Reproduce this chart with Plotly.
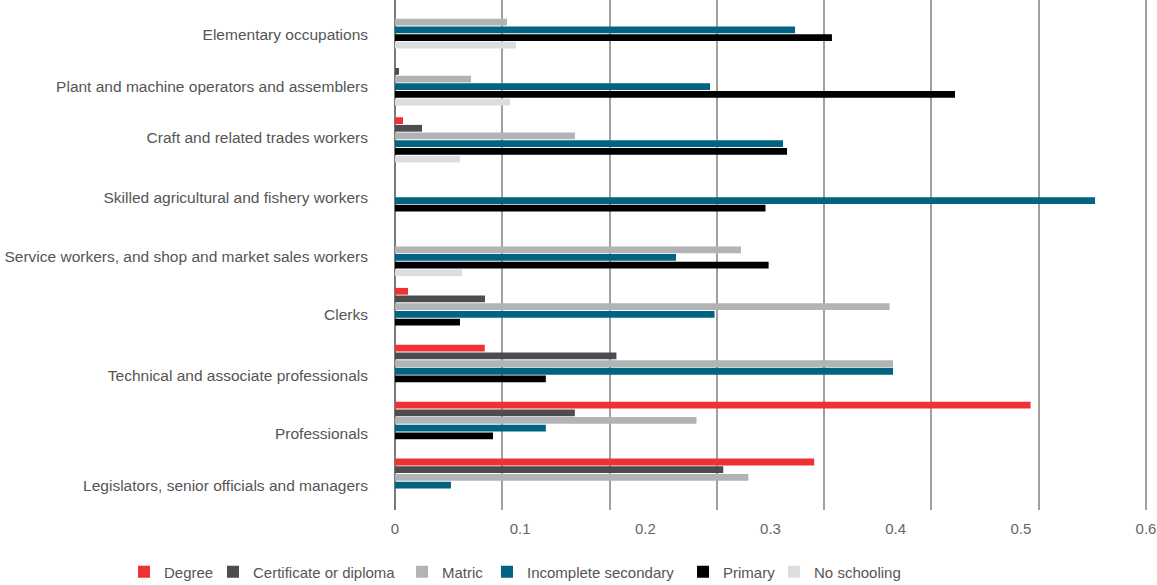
import plotly.graph_objects as go

# ---- data ----
categories = [
    "Elementary occupations",
    "Plant and machine operators and assemblers",
    "Craft and related trades workers",
    "Skilled agricultural and fishery workers",
    "Service workers, and shop and market sales workers",
    "Clerks",
    "Technical and associate professionals",
    "Professionals",
    "Legislators, senior officials and managers",
]
series_names = ["Degree", "Certificate or diploma", "Matric",
                "Incomplete secondary", "Primary", "No schooling"]

degree       = [None, None, 0.0064, None, None, 0.0104, 0.0717, 0.5078, 0.3349]
certificate  = [None, 0.0032, 0.0216, None, None, 0.0719, 0.1769, 0.1437, 0.2623]
matric       = [0.0895, 0.0607, 0.1438, None, 0.2764, 0.3952, 0.3979, 0.2409, 0.2823]
incomplete   = [0.3196, 0.2517, 0.3100, 0.5593, 0.2245, 0.2553, 0.3979, 0.1205, 0.0447]
primary      = [0.3491, 0.4474, 0.3132, 0.2960, 0.2985, 0.0519, 0.1205, 0.0783, None]
no_schooling = [0.0967, 0.0919, 0.0519, None, 0.0535, None, None, None, None]

x_tick_values = [0, 0.1, 0.2, 0.3, 0.4, 0.5, 0.6]
x_tick_labels = ["0", "0.1", "0.2", "0.3", "0.4", "0.5", "0.6"]

# ---- styling / layout helpers ----
colors = ["#EE3135", "#4D4D4F", "#B1B3B5", "#006482", "#000000", "#DCDDDF"]
values = [degree, certificate, matric, incomplete, primary, no_schooling]
x_max = 0.6
x_range = [0, 0.6024]
n_grid = 7
grid_vals = [round(x_max * k / n_grid, 9) for k in range(n_grid + 1)]
y_range = [8.506, -0.457]
label_pos = [0.158, 1.072, 1.968, 3.023, 4.06, 5.08, 6.15, 7.17, 8.08]
legend_x = [-0.3594, -0.2414, 0.0093, 0.1220, 0.3820, 0.5027]
legend_ids = ["legend", "legend2", "legend3", "legend4", "legend5", "legend6"]

FONT = "Liberation Sans, Arial, Helvetica, sans-serif"

fig = go.Figure()
for name, vals, col, lid in zip(series_names, values, colors, legend_ids):
    fig.add_trace(go.Bar(
        name=name, x=vals, y=categories, orientation="h",
        marker=dict(color=col, line=dict(width=0)), legend=lid,
    ))

# invisible trace to carry the label axes
fig.add_trace(go.Scatter(x=[None], y=[None], xaxis="x2", yaxis="y2",
                         showlegend=False, hoverinfo="skip", mode="markers"))

legend_layout = {}
for lid, lx in zip(legend_ids, legend_x):
    legend_layout[lid] = dict(
        orientation="h", x=lx, xanchor="left", y=-0.1216, yanchor="middle",
        font=dict(family=FONT, size=15, color="#555555"),
        bgcolor="rgba(0,0,0,0)", itemwidth=30, borderwidth=0,
    )

fig.update_layout(
    width=1157, height=585,
    margin=dict(l=395, r=8, t=0, b=75, autoexpand=False),
    paper_bgcolor="white", plot_bgcolor="white",
    barmode="group", bargap=0.19, bargroupgap=0.12,
    font=dict(family=FONT, size=15, color="#555555"),
    xaxis=dict(
        range=x_range, tickvals=grid_vals, showticklabels=False,
        showgrid=True, gridcolor="#a0a0a0", gridwidth=1.5,
        zeroline=True, zerolinecolor="#7a7a7a", zerolinewidth=1.5,
        showline=False, ticks="", automargin=False, fixedrange=True,
    ),
    xaxis2=dict(
        range=x_range, overlaying="x", anchor="y2", side="bottom",
        tickvals=x_tick_values, ticktext=x_tick_labels,
        showgrid=False, zeroline=False, showline=False, ticks="",
        tickfont=dict(family=FONT, size=15, color="#666666"),
        ticklabelstandoff=8, ticklabeloverflow="allow", automargin=False,
    ),
    yaxis=dict(
        type="category", categoryorder="array", categoryarray=categories,
        range=y_range, showticklabels=False, showgrid=False,
        zeroline=False, showline=False, ticks="", automargin=False,
    ),
    yaxis2=dict(
        range=y_range, overlaying="y", anchor="x2", side="left",
        tickvals=label_pos, ticktext=categories,
        showgrid=False, zeroline=False, showline=False, ticks="",
        tickfont=dict(family=FONT, size=15.5, color="#555555"),
        ticklabelstandoff=26, automargin=False,
    ),
    showlegend=True,
    **legend_layout,
)

fig.write_html("out.html", config={"displayModeBar": False},
               post_script="document.body.style.margin='0px';")
